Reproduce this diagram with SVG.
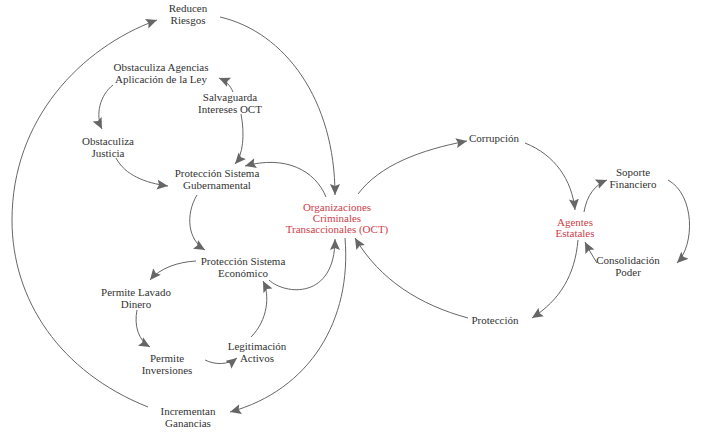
<svg xmlns="http://www.w3.org/2000/svg" width="702" height="433" viewBox="0 0 702 433" font-family="Liberation Serif" style="font-family:'Liberation Serif',serif">
<defs>
<marker id="ah" markerUnits="userSpaceOnUse" markerWidth="12" markerHeight="12" refX="11" refY="5" orient="auto">
<path d="M0,0 L11,5 L0,10 L2,5 z" fill="#666"/>
</marker>
</defs>
<rect width="702" height="433" fill="#fff"/>
<g id="connectors" fill="none" stroke="#666" stroke-width="1" marker-end="url(#ah)">
<path d="M148,407 C60,372 12,300 12,220 C12,120 80,48 157,20"/>
<path d="M220,17 C285,32 335,100 335,195"/>
<path d="M113,85 C100,95 95,115 102,129"/>
<path d="M233,92 C230,85 226,81 219,78"/>
<path d="M241,114 C245,135 243,155 235,164"/>
<path d="M116,158 C125,175 145,183 168,186"/>
<path d="M326,197 C315,170 285,155 245,166"/>
<path d="M197,195 C185,215 188,240 205,250"/>
<path d="M196,261 C178,262 160,268 150,280"/>
<path d="M137,310 C134,325 138,340 150,347"/>
<path d="M205,360 C215,365 228,365 237,358"/>
<path d="M251,337 C268,320 270,295 263,281"/>
<path d="M269,280 C285,295 335,300 335,239"/>
<path d="M345,238 C352,320 310,390 230,412"/>
<path d="M358,194 C380,165 420,150 467,141"/>
<path d="M525,143 C555,155 572,180 575,210"/>
<path d="M584,212 C587,195 595,185 607,180"/>
<path d="M668,180 C695,195 695,245 677,263"/>
<path d="M597,263 C592,255 588,248 585,242"/>
<path d="M578,240 C575,275 560,300 532,318"/>
<path d="M468,318 C420,305 380,280 355,238"/>
</g>
<g font-size="11" fill="#333" text-anchor="middle">
<g id="n-reducen"><text x="188" y="12">Reducen</text><text x="188" y="23.5">Riesgos</text></g>
<g id="n-obstag"><text x="161" y="71">Obstaculiza Agencias</text><text x="161" y="82.5">Aplicación de la Ley</text></g>
<g id="n-salv"><text x="230" y="101">Salvaguarda</text><text x="230" y="112.5">Intereses OCT</text></g>
<g id="n-obstjus"><text x="108" y="145">Obstaculiza</text><text x="108" y="156.5">Justicia</text></g>
<g id="n-psg"><text x="217" y="177">Protección Sistema</text><text x="217" y="188.5">Gubernamental</text></g>
<g id="n-oct" fill="#d0404a"><text x="337" y="211">Organizaciones</text><text x="337" y="222">Criminales</text><text x="337" y="233">Transaccionales (OCT)</text></g>
<g id="n-pse"><text x="243" y="265">Protección Sistema</text><text x="243" y="276.5">Económico</text></g>
<g id="n-lavado"><text x="136" y="296">Permite Lavado</text><text x="136" y="307.5">Dinero</text></g>
<g id="n-inv"><text x="167" y="362">Permite</text><text x="167" y="373.5">Inversiones</text></g>
<g id="n-legit"><text x="257" y="350">Legitimación</text><text x="257" y="361.5">Activos</text></g>
<g id="n-incr"><text x="188" y="415">Incrementan</text><text x="188" y="426.5">Ganancias</text></g>
<g id="n-corr"><text x="494" y="142">Corrupción</text></g>
<g id="n-agentes" fill="#d0404a"><text x="575" y="226">Agentes</text><text x="575" y="237">Estatales</text></g>
<g id="n-soporte"><text x="633" y="176">Soporte</text><text x="633" y="187.5">Financiero</text></g>
<g id="n-consol"><text x="628" y="264">Consolidación</text><text x="628" y="275.5">Poder</text></g>
<g id="n-prot"><text x="495" y="324">Protección</text></g>
</g>
</svg>
